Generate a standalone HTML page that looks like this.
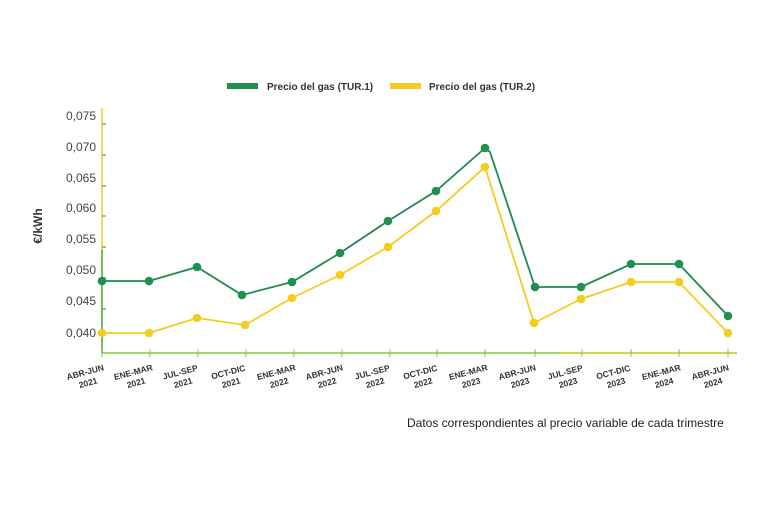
<!DOCTYPE html>
<html><head><meta charset="utf-8"><style>
html,body{margin:0;padding:0;background:#fff;}
svg{display:block;font-family:"Liberation Sans",sans-serif;}
</style></head><body>
<svg width="768" height="512" viewBox="0 0 768 512" xmlns="http://www.w3.org/2000/svg">
<rect width="768" height="512" fill="#fff"/>
<!-- legend -->
<rect x="227" y="83" width="31" height="6" fill="#1e9150"/>
<text x="267" y="90" font-size="10" font-weight="bold" fill="#333">Precio del gas (TUR.1)</text>
<rect x="390" y="83" width="31" height="6" fill="#f5cd1e"/>
<text x="429" y="90" font-size="10" font-weight="bold" fill="#333">Precio del gas (TUR.2)</text>
<!-- y label -->
<text transform="translate(42,226) rotate(-90)" text-anchor="middle" font-size="12" font-weight="bold" fill="#333">€/kWh</text>
<!-- y ticks -->
<g font-size="12" fill="#444" text-anchor="end">
<text x="96" y="120">0,075</text>
<text x="96" y="151">0,070</text>
<text x="96" y="182">0,065</text>
<text x="96" y="212">0,060</text>
<text x="96" y="243">0,055</text>
<text x="96" y="274">0,050</text>
<text x="96" y="305">0,045</text>
<text x="96" y="337">0,040</text>
</g>
<!-- axes -->
<line x1="102" y1="108" x2="102" y2="353" stroke="#f5cd1e" stroke-width="1.5"/>
<line x1="102" y1="250" x2="102" y2="353" stroke="#4caf50" stroke-width="1.5"/>
<line x1="102" y1="353" x2="737" y2="353" stroke="#8bc34a" stroke-width="1.5"/>
<line x1="560" y1="353" x2="737" y2="353" stroke="#d4d030" stroke-width="1.5"/>
<g stroke="#8bc34a" stroke-width="1">
<line x1="102" y1="349" x2="102" y2="357"/><line x1="150" y1="349" x2="150" y2="357"/><line x1="198" y1="349" x2="198" y2="357"/><line x1="246" y1="349" x2="246" y2="357"/><line x1="294" y1="349" x2="294" y2="357"/><line x1="342" y1="349" x2="342" y2="357"/><line x1="390" y1="349" x2="390" y2="357"/><line x1="437" y1="349" x2="437" y2="357"/><line x1="485" y1="349" x2="485" y2="357"/><line x1="535" y1="349" x2="535" y2="357"/><line x1="582" y1="349" x2="582" y2="357"/><line x1="631" y1="349" x2="631" y2="357"/><line x1="679" y1="349" x2="679" y2="357"/><line x1="728" y1="349" x2="728" y2="357"/>
</g>
<g stroke="#4caf50" stroke-width="1.3"><line x1="102" y1="124" x2="106" y2="124"/><line x1="102" y1="155" x2="106" y2="155"/><line x1="102" y1="186" x2="106" y2="186"/><line x1="102" y1="216" x2="106" y2="216"/><line x1="102" y1="247" x2="106" y2="247"/><line x1="102" y1="278" x2="106" y2="278"/><line x1="102" y1="309" x2="106" y2="309"/><line x1="102" y1="333" x2="106" y2="333"/></g>
<!-- series -->
<polyline fill="none" stroke="#f5cd1e" stroke-width="1.8" points="102,333 149,333 197,318 245,325 292,298 340,275 388,247 436,211 485,167 534,323 581,299 631,282 679,282 728,333"/>
<g fill="#f5cd1e"><circle cx="102" cy="333" r="4.3"/><circle cx="149" cy="333" r="4.3"/><circle cx="197" cy="318" r="4.3"/><circle cx="245" cy="325" r="4.3"/><circle cx="292" cy="298" r="4.3"/><circle cx="340" cy="275" r="4.3"/><circle cx="388" cy="247" r="4.3"/><circle cx="436" cy="211" r="4.3"/><circle cx="485" cy="167" r="4.3"/><circle cx="534" cy="323" r="4.3"/><circle cx="581" cy="299" r="4.3"/><circle cx="631" cy="282" r="4.3"/><circle cx="679" cy="282" r="4.3"/><circle cx="728" cy="333" r="4.3"/></g>
<polyline fill="none" stroke="#1e8a4c" stroke-width="1.8" points="102,281 149,281 197,267 242,295 292,282 340,253 388,221 436,191 485,148 490,152 535,287 581,287 631,264 679,264 728,316"/>
<g fill="#1e9150"><circle cx="102" cy="281" r="4.3"/><circle cx="149" cy="281" r="4.3"/><circle cx="197" cy="267" r="4.3"/><circle cx="242" cy="295" r="4.3"/><circle cx="292" cy="282" r="4.3"/><circle cx="340" cy="253" r="4.3"/><circle cx="388" cy="221" r="4.3"/><circle cx="436" cy="191" r="4.3"/><circle cx="485" cy="148" r="4.3"/><circle cx="535" cy="287" r="4.3"/><circle cx="581" cy="287" r="4.3"/><circle cx="631" cy="264" r="4.3"/><circle cx="679" cy="264" r="4.3"/><circle cx="728" cy="316" r="4.3"/></g>
<!-- x labels -->
<g font-size="8.5" font-weight="bold" fill="#333" text-anchor="middle">
<g transform="translate(86,375) rotate(-15)"><text>ABR-JUN</text><text y="11">2021</text></g>
<g transform="translate(134,375) rotate(-15)"><text>ENE-MAR</text><text y="11">2021</text></g>
<g transform="translate(181,375) rotate(-15)"><text>JUL-SEP</text><text y="11">2021</text></g>
<g transform="translate(229,375) rotate(-15)"><text>OCT-DIC</text><text y="11">2021</text></g>
<g transform="translate(277,375) rotate(-15)"><text>ENE-MAR</text><text y="11">2022</text></g>
<g transform="translate(325,375) rotate(-15)"><text>ABR-JUN</text><text y="11">2022</text></g>
<g transform="translate(373,375) rotate(-15)"><text>JUL-SEP</text><text y="11">2022</text></g>
<g transform="translate(421,375) rotate(-15)"><text>OCT-DIC</text><text y="11">2022</text></g>
<g transform="translate(469,375) rotate(-15)"><text>ENE-MAR</text><text y="11">2023</text></g>
<g transform="translate(518,375) rotate(-15)"><text>ABR-JUN</text><text y="11">2023</text></g>
<g transform="translate(566,375) rotate(-15)"><text>JUL-SEP</text><text y="11">2023</text></g>
<g transform="translate(614,375) rotate(-15)"><text>OCT-DIC</text><text y="11">2023</text></g>
<g transform="translate(662,375) rotate(-15)"><text>ENE-MAR</text><text y="11">2024</text></g>
<g transform="translate(711,375) rotate(-15)"><text>ABR-JUN</text><text y="11">2024</text></g>
</g>
<text x="407" y="427" font-size="12" fill="#222">Datos correspondientes al precio variable de cada trimestre</text>
</svg>
</body></html>
